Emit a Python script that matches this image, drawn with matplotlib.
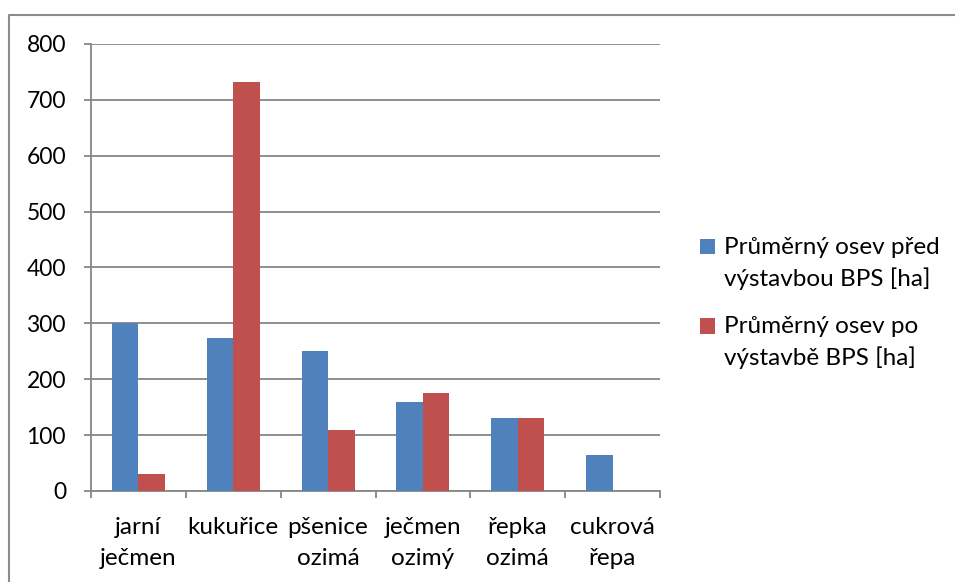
import matplotlib.pyplot as plt
import numpy as np
from matplotlib.lines import Line2D
from matplotlib.patches import Rectangle
from matplotlib.container import BarContainer
from matplotlib.legend_handler import HandlerPatch, update_from_first_child

plt.rcParams['font.family'] = ['Lato', 'DejaVu Sans']

categories = ['jarní\nječmen', 'kukuřice', 'pšenice\nozimá', 'ječmen\nozimý', 'řepka\nozimá', 'cukrová\nřepa']
before = [300, 273, 250, 160, 130, 65]
after = [30, 732, 110, 175, 130, 0]
series_names = ['Průměrný osev před\nvýstavbou BPS [ha]', 'Průměrný osev po\nvýstavbě BPS [ha]']
yticks = [0, 100, 200, 300, 400, 500, 600, 700, 800]

blue = '#4F81BD'
red = '#C0504D'
grid_c = '#868686'

fig = plt.figure(figsize=(9.55, 5.82), dpi=100)
ax = fig.add_axes([0.0953, 0.1564, 0.5958, 0.768])

# outer chart frame (only top and left edges are visible)
fig.lines.append(Line2D([8.5 / 955, 8.5 / 955, 1], [0, 1 - 14.5 / 582, 1 - 14.5 / 582],
                        transform=fig.transFigure, color='#8c8c8c', linewidth=1.5))

x = np.arange(len(categories))
w = 0.28
ax.bar(x - w / 2, before, w, color=blue, label=series_names[0], zorder=3)
ax.bar(x + w / 2, after, w, color=red, label=series_names[1], zorder=3)

ax.set_xlim(-0.5, len(categories) - 0.5)
ax.set_ylim(0, 800)
ax.set_yticks(yticks)
ax.yaxis.grid(True, color=grid_c, linewidth=1.3, zorder=0)

# category boundary ticks, labels centred
ax.set_xticks(np.arange(-0.5, len(categories), 1))
ax.set_xticklabels([])
ax.set_xticks(x, minor=True)
ax.set_xticklabels(categories, minor=True, fontsize=17.5, linespacing=1.55)
ax.tick_params(axis='x', which='minor', length=0, pad=19)
ax.tick_params(axis='x', which='major', length=5, width=1.3, color=grid_c)
ax.tick_params(axis='y', length=5, width=1.3, color=grid_c, pad=13, labelsize=16.5)

for s in ['top', 'right']:
    ax.spines[s].set_visible(False)
for s in ['left', 'bottom']:
    ax.spines[s].set_color(grid_c)
    ax.spines[s].set_linewidth(1.3)


def top_square(legend, orig_handle, xdescent, ydescent, width, height, fontsize):
    # Excel puts the marker next to the first line of a wrapped label
    return Rectangle((-xdescent, -ydescent + 0.68 * fontsize), width, height)


leg = fig.legend(loc='center left', bbox_to_anchor=(0.71, 0.48), frameon=False,
                 fontsize=17.5, handlelength=0.62, handleheight=0.62, handletextpad=0.35,
                 labelspacing=1.08,
                 handler_map={BarContainer: HandlerPatch(patch_func=top_square,
                                                         update_func=update_from_first_child)})
for t in leg.get_texts():
    t.set_linespacing(1.5)

fig.savefig('out.png', dpi=100)
